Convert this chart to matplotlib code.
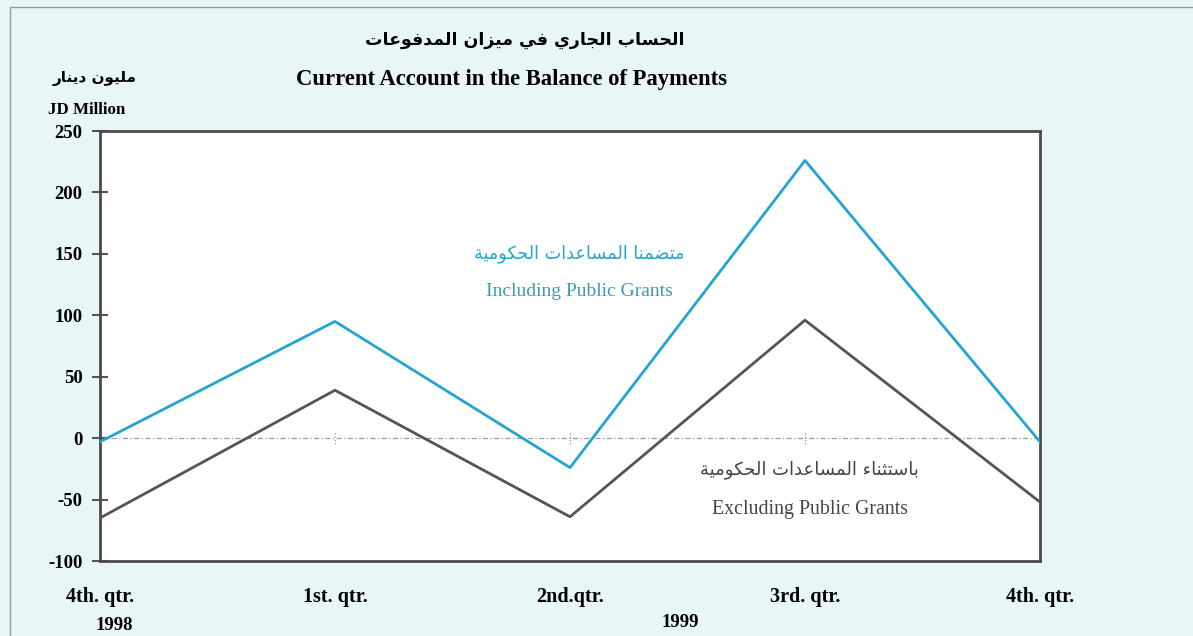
# current_account.py
# Current account in the balance of payments, JD million (1998 Q4 - 1999 Q4)

import matplotlib
matplotlib.use("Agg")
import matplotlib.pyplot as plt
from matplotlib.patches import Rectangle

quarters = ["4th. qtr.", "1st. qtr.", "2nd.qtr.", "3rd. qtr.", "4th. qtr."]
years = ["1998", "1999"]
incl_grants = [-3, 95, -24, 226, -3]
excl_grants = [-65, 39, -64, 96, -52]
yticks = [250, 200, 150, 100, 50, 0, -50, -100]

title_ar = "الحساب الجاري في ميزان المدفوعات"
title_en = "Current Account in the Balance of Payments"
unit_ar = "مليون دينار"
unit_en = "JD Million"
incl_ar = "متضمنا المساعدات الحكومية"
incl_en = "Including Public Grants"
excl_ar = "باستثناء المساعدات الحكومية"
excl_en = "Excluding Public Grants"

# matplotlib has no Arabic shaping, so map letters to presentation forms
# (isolated, final, initial, medial) and reverse for left-to-right drawing
FORMS = {
    "ء": (0xFE80,), "ا": (0xFE8D, 0xFE8E), "ب": (0xFE8F, 0xFE90, 0xFE91, 0xFE92),
    "ة": (0xFE93, 0xFE94), "ت": (0xFE95, 0xFE96, 0xFE97, 0xFE98),
    "ث": (0xFE99, 0xFE9A, 0xFE9B, 0xFE9C), "ج": (0xFE9D, 0xFE9E, 0xFE9F, 0xFEA0),
    "ح": (0xFEA1, 0xFEA2, 0xFEA3, 0xFEA4), "د": (0xFEA9, 0xFEAA),
    "ر": (0xFEAD, 0xFEAE), "ز": (0xFEAF, 0xFEB0),
    "س": (0xFEB1, 0xFEB2, 0xFEB3, 0xFEB4), "ض": (0xFEBD, 0xFEBE, 0xFEBF, 0xFEC0),
    "ع": (0xFEC9, 0xFECA, 0xFECB, 0xFECC), "ف": (0xFED1, 0xFED2, 0xFED3, 0xFED4),
    "ك": (0xFED9, 0xFEDA, 0xFEDB, 0xFEDC), "ل": (0xFEDD, 0xFEDE, 0xFEDF, 0xFEE0),
    "م": (0xFEE1, 0xFEE2, 0xFEE3, 0xFEE4), "ن": (0xFEE5, 0xFEE6, 0xFEE7, 0xFEE8),
    "و": (0xFEED, 0xFEEE), "ي": (0xFEF1, 0xFEF2, 0xFEF3, 0xFEF4),
}


def shape(text):
    out = []
    for i, ch in enumerate(text):
        f = FORMS.get(ch)
        if f is None:
            out.append(ch)
            continue
        prev = text[i - 1] if i > 0 else " "
        nxt = text[i + 1] if i + 1 < len(text) else " "
        join_prev = len(FORMS.get(prev, ())) == 4 and len(f) > 1
        join_next = len(f) == 4 and len(FORMS.get(nxt, ())) > 1
        if join_prev and join_next:
            code = f[3]
        elif join_next:
            code = f[2]
        elif join_prev:
            code = f[1]
        else:
            code = f[0]
        out.append(chr(code))
    return "".join(out)[::-1]


CYAN = "#23a5d2"
GREY = "#555555"
BG = "#e9f6f8"
SERIF = "Liberation Serif"
ARAB = "DejaVu Sans"

fig = plt.figure(figsize=(11.93, 6.36), dpi=100)
fig.patch.set_facecolor(BG)
fig.patches.append(Rectangle((10 / 1193, -0.1), 1.2, 1.1 - 7 / 636, transform=fig.transFigure,
                             fill=False, edgecolor="#9a9a9a", linewidth=1.0))

ax = fig.add_axes([100 / 1193, 75 / 636, 940 / 1193, 430 / 636])
ax.set_facecolor("white")
x = list(range(len(quarters)))

ax.axhline(0, color="#999999", linewidth=0.9, linestyle=(0, (4, 2, 1, 2)), zorder=1)
ax.vlines(x[1:-1], -5, 5, color="#999999", linewidth=0.9, linestyle=":", zorder=1)

ax.plot(x, incl_grants, color=CYAN, linewidth=2.0, zorder=3)
ax.plot(x, excl_grants, color=GREY, linewidth=2.0, zorder=3)

ax.set_xlim(0, 4)
ax.set_ylim(-100, 250)
ax.set_yticks(yticks)
ax.set_yticklabels([str(v) for v in yticks], fontfamily=SERIF, fontweight="bold", fontsize=13.5)
ax.tick_params(axis="y", direction="inout", length=11, width=1.5, color=GREY, pad=7)
ax.set_xticks(x)
ax.set_xticklabels(quarters, fontfamily=SERIF, fontweight="bold", fontsize=14.5)
ax.tick_params(axis="x", length=0, pad=19)
for s in ax.spines.values():
    s.set_color("#4a4a4a")
    s.set_linewidth(2.0)

# year labels under the first quarter of each year
for xp, yp, yr in zip([0.06, 2.47], [-0.149, -0.142], years):
    ax.text(xp, yp, yr, transform=ax.get_xaxis_transform(), ha="center", va="center",
            fontfamily=SERIF, fontweight="bold", fontsize=13.5, clip_on=False)

ax.text(2.04, 150, shape(incl_ar), color=CYAN, ha="center", va="center", fontfamily=ARAB, fontsize=12.7)
ax.text(2.04, 119, incl_en, color="#3d9bb8", ha="center", va="center", fontfamily=SERIF, fontsize=14)
ax.text(3.02, -26, shape(excl_ar), color="#444444", ha="center", va="center", fontfamily=ARAB, fontsize=13)
ax.text(3.02, -58, excl_en, color="#444444", ha="center", va="center", fontfamily=SERIF, fontsize=14.3)

fig.text(525 / 1193, 1 - 40 / 636, shape(title_ar), ha="center", va="center",
         fontfamily=ARAB, fontweight="bold", fontsize=12.5)
fig.text(512 / 1193, 1 - 79 / 636, title_en, ha="center", va="center",
         fontfamily=SERIF, fontweight="bold", fontsize=16.3)
fig.text(95 / 1193, 1 - 78 / 636, shape(unit_ar), ha="center", va="center",
         fontfamily=ARAB, fontweight="bold", fontsize=11)
fig.text(87 / 1193, 1 - 110 / 636, unit_en, ha="center", va="center",
         fontfamily=SERIF, fontweight="bold", fontsize=12.2)

fig.savefig("out.png", dpi=100, facecolor=BG)
